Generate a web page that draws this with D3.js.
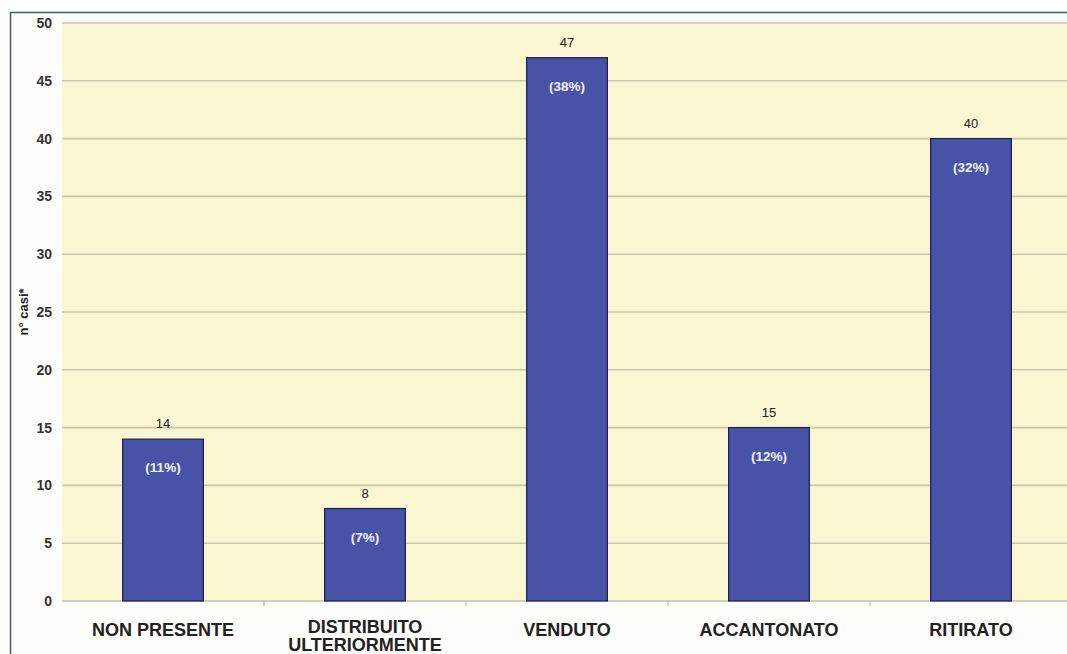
<!DOCTYPE html>
<html>
<head>
<meta charset="utf-8">
<script src="https://cdn.jsdelivr.net/npm/d3@7/dist/d3.min.js"></script>
<style>
  html, body { margin: 0; padding: 0; background: #ffffff; }
  svg { display: block; font-family: "Liberation Sans", Arial, sans-serif; }
</style>
</head>
<body>
<svg id="chart" width="1067" height="654"></svg>
<script>
// Destinazione dei lotti: numero di casi per esito
const categories = ["NON PRESENTE", "DISTRIBUITO\nULTERIORMENTE", "VENDUTO", "ACCANTONATO", "RITIRATO"];
const counts = [14, 8, 47, 15, 40];
const percents = ["(11%)", "(7%)", "(38%)", "(12%)", "(32%)"];
const yTicks = [0, 5, 10, 15, 20, 25, 30, 35, 40, 45, 50];
const yTitle = "n° casi*";

const W = 1067, H = 654;
const plot = { left: 62, top: 23, right: 1072, bottom: 601 };

const svg = d3.select("#chart");

// outer frame of the chart
svg.append("rect")
  .attr("x", 10.5).attr("y", 12.5)
  .attr("width", W + 20).attr("height", H + 20)
  .attr("fill", "#fdfdfb")
  .attr("stroke", "#3f5b72").attr("stroke-width", 1.5);

const x = d3.scaleBand()
  .domain(categories)
  .range([plot.left, plot.right])
  .paddingInner(0.6)
  .paddingOuter(0.3);

const y = d3.scaleLinear()
  .domain([0, 50])
  .range([plot.bottom, plot.top]);

// plot background
svg.append("rect")
  .attr("x", plot.left).attr("y", plot.top)
  .attr("width", plot.right - plot.left).attr("height", plot.bottom - plot.top)
  .attr("fill", "#fbf6d2");

// horizontal gridlines
svg.append("g")
  .selectAll("line")
  .data(yTicks.filter(d => d > 0))
  .join("line")
  .attr("x1", plot.left).attr("x2", plot.right)
  .attr("y1", d => y(d)).attr("y2", d => y(d))
  .attr("stroke", "#cbc6a9").attr("stroke-width", 1.6);

// y axis labels
const yAxis = d3.axisLeft(y).tickValues(yTicks).tickSize(0).tickPadding(10);
const gy = svg.append("g")
  .attr("transform", `translate(${plot.left},0)`)
  .call(yAxis);
gy.select(".domain").remove();
gy.selectAll("text")
  .attr("font-size", 14).attr("font-weight", "bold").attr("fill", "#333");

// x axis baseline and category separators
const gx = svg.append("g")
  .attr("transform", `translate(0,${plot.bottom})`);
gx.append("line")
  .attr("x1", plot.left).attr("x2", plot.right)
  .attr("stroke", "#c2c0b0").attr("stroke-width", 1.5);
gx.selectAll("line.sep")
  .data(categories.slice(1))
  .join("line")
  .attr("class", "sep")
  .attr("x1", d => x(d) - x.step() * x.paddingInner() / 2)
  .attr("x2", d => x(d) - x.step() * x.paddingInner() / 2)
  .attr("y1", 0).attr("y2", 5)
  .attr("stroke", "#b5b3a5");

// category labels (multi-line labels sit a little higher)
const cat = gx.selectAll("text.cat")
  .data(categories)
  .join("text")
  .attr("class", "cat")
  .attr("x", d => x(d) + x.bandwidth() / 2)
  .attr("y", d => d.includes("\n") ? 32 : 35)
  .attr("text-anchor", "middle")
  .attr("font-size", 18).attr("font-weight", "bold").attr("fill", "#222");
cat.each(function (d) {
  const lines = d.split("\n");
  d3.select(this).selectAll("tspan")
    .data(lines)
    .join("tspan")
    .attr("x", x(d) + x.bandwidth() / 2)
    .attr("dy", (l, i) => i === 0 ? 0 : 18)
    .text(l => l);
});

// bars
const data = categories.map((c, i) => ({ c, v: counts[i], p: percents[i] }));
svg.append("g")
  .selectAll("rect")
  .data(data)
  .join("rect")
  .attr("x", d => x(d.c))
  .attr("y", d => y(d.v))
  .attr("width", x.bandwidth())
  .attr("height", d => y(0) - y(d.v))
  .attr("fill", "#4853a8")
  .attr("stroke", "#1c2050").attr("stroke-width", 1.2);

// value labels above bars
svg.append("g")
  .selectAll("text")
  .data(data)
  .join("text")
  .attr("x", d => x(d.c) + x.bandwidth() / 2)
  .attr("y", d => y(d.v) - 11)
  .attr("text-anchor", "middle")
  .attr("font-size", 13).attr("fill", "#222")
  .text(d => d.v);

// percentage labels inside bars
svg.append("g")
  .selectAll("text")
  .data(data)
  .join("text")
  .attr("x", d => x(d.c) + x.bandwidth() / 2)
  .attr("y", d => y(d.v) + 33)
  .attr("text-anchor", "middle")
  .attr("font-size", 13.5).attr("font-weight", "bold").attr("fill", "#eef0fa")
  .text(d => d.p);

// y axis title
svg.append("text")
  .attr("transform", `translate(28,${(plot.top + plot.bottom) / 2}) rotate(-90)`)
  .attr("text-anchor", "middle")
  .attr("font-size", 13).attr("font-weight", "bold").attr("fill", "#222")
  .text(yTitle);
</script>
</body>
</html>
